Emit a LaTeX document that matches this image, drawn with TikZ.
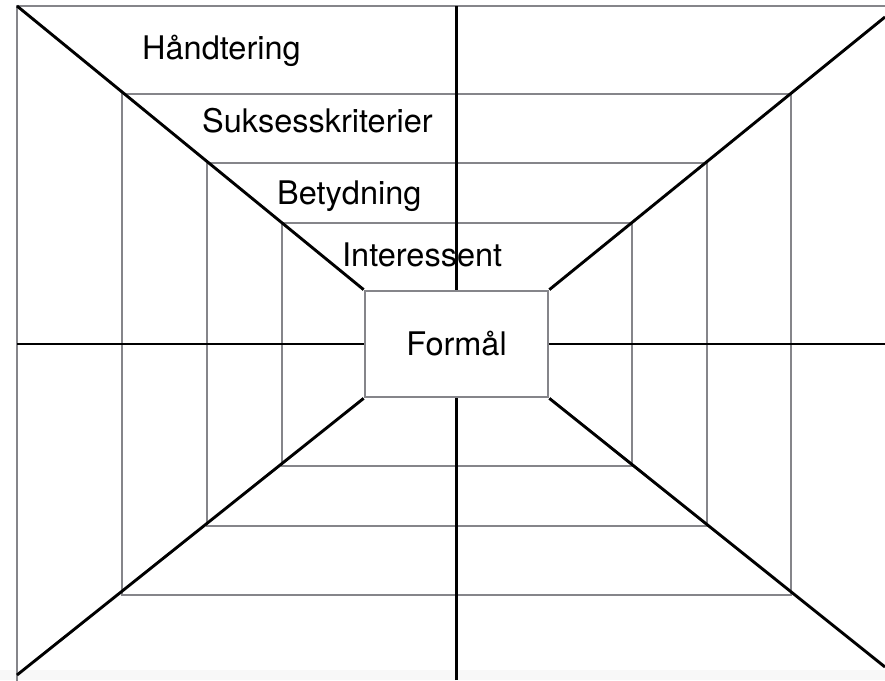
\documentclass[tikz,border=0pt]{standalone}
\usepackage{fontspec}
\setmainfont{TeX Gyre Heros}
\definecolor{framegray}{HTML}{85858A}
\definecolor{stripgray}{HTML}{F8F8F8}
\begin{document}
\begin{tikzpicture}[x=1pt,y=-1pt,
  ring/.style={draw=framegray,line width=2.7pt},
  spoke/.style={draw=black,line width=2.9pt},
  lbl/.style={anchor=base west,inner sep=0pt,font=\fontsize{32.5}{38}\selectfont},
  centerbox/.style={draw=framegray,line width=2.7pt,minimum width=183pt,minimum height=106pt,inner sep=0pt,fill=white,font=\fontsize{32.5}{38}\selectfont}]
\useasboundingbox (0,0) rectangle (885,680);
\fill[stripgray] (0,670) rectangle (885,680);
% rings
\draw[ring] (17,700) -- (17,6) -- (900,6);
\draw[ring] (122,94) rectangle (791,595);
\draw[ring] (207,163) rectangle (707,526);
\draw[ring] (282,223) rectangle (632,466);
% labels
\node[lbl] (h) at (142,59) {Håndtering};
\node[lbl] (s) at (202,132) {Suksesskriterier};
\node[lbl] (b) at (277,204) {Betydning};
\node[lbl] (i) at (342,266) {Interessent};
% center box
\node[centerbox] (c) at (456.5,344) {Formål};
% endpoints
\coordinate (tl) at (17,6);
\coordinate (tr) at (885,17);
\coordinate (bl) at (17,675);
\coordinate (br) at (885,667);
\coordinate (tm) at (456.5,6);
\coordinate (bm) at (456.5,680);
\coordinate (lm) at (17,344);
\coordinate (rm) at (885,344);
% spokes
\draw[spoke] (tl) -- (c.north west);
\draw[spoke] (tr) -- (c.north east);
\draw[spoke] (bl) -- (c.south west);
\draw[spoke] (br) -- (c.south east);
\draw[spoke] (tm) -- (c.north);
\draw[spoke] (bm) -- (c.south);
\draw[spoke] (lm) -- (c.west);
\draw[spoke] (rm) -- (c.east);
\end{tikzpicture}
\end{document}
